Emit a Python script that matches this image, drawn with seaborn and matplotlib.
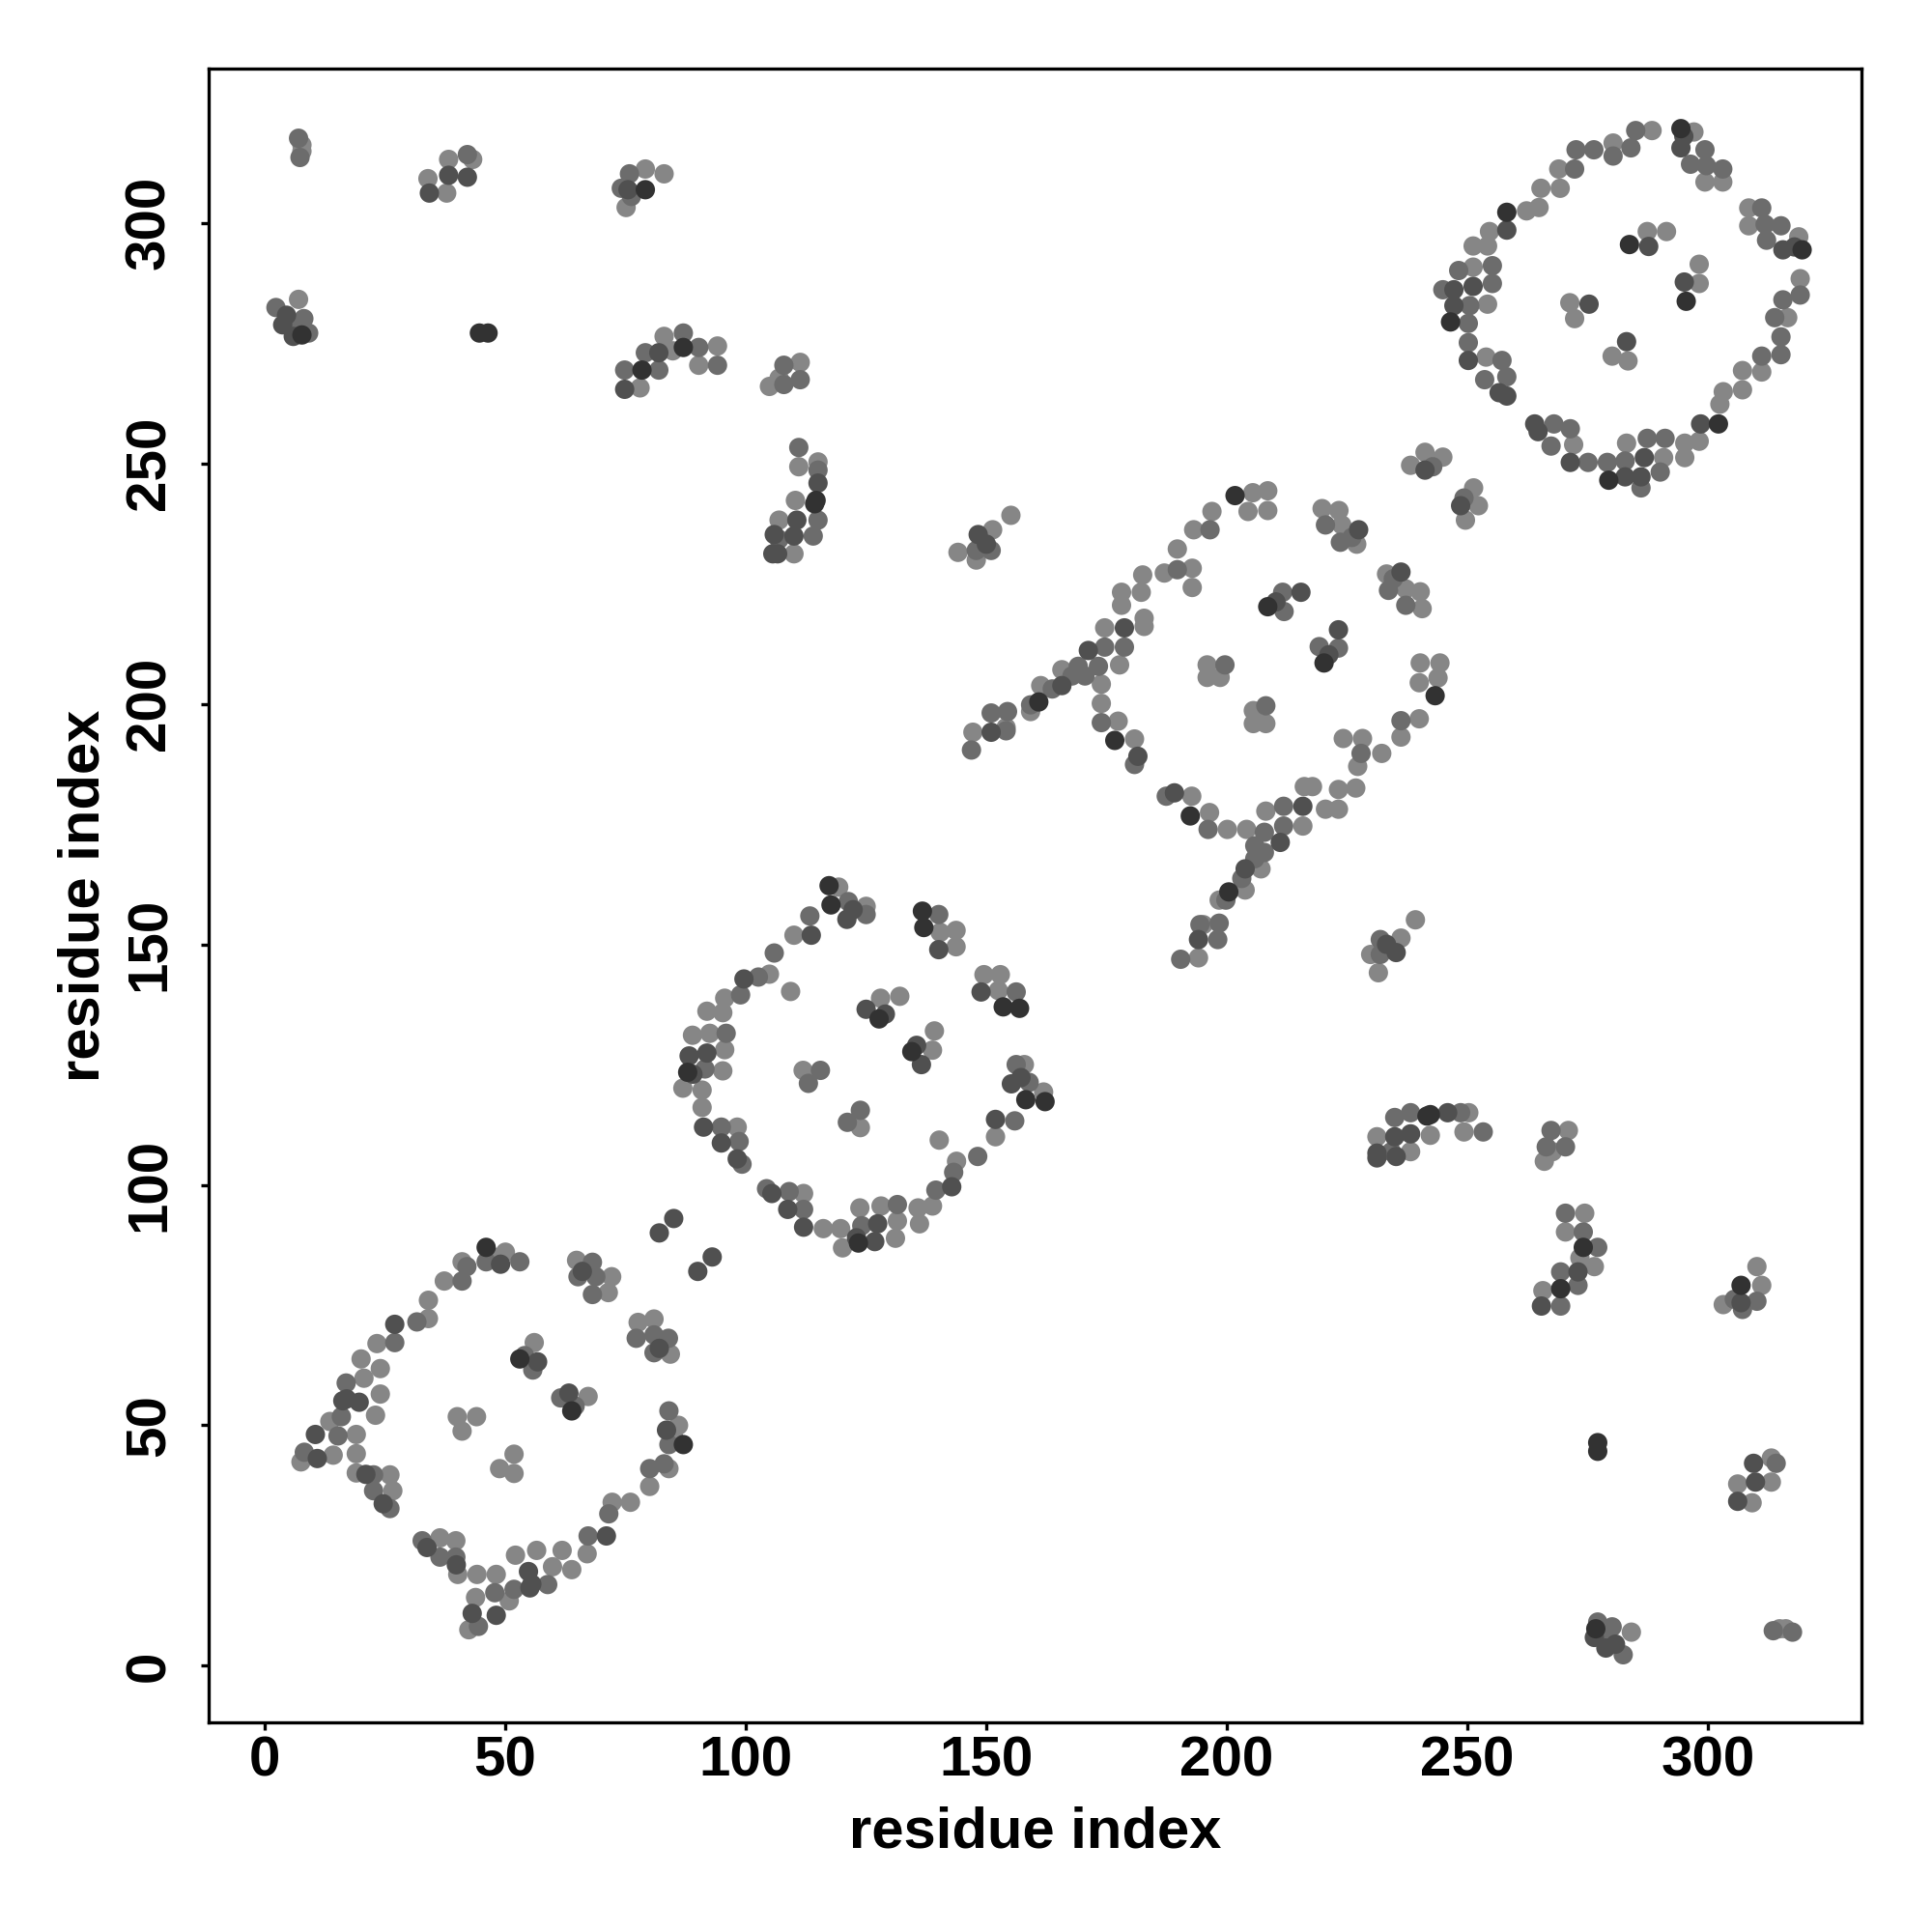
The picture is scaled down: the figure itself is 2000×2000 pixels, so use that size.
import numpy as np
import pandas as pd
import matplotlib
matplotlib.use("Agg")
import matplotlib.pyplot as plt
import seaborn as sns

# Contact map (symmetric): contacts listed for the upper triangle (j > i),
# shade = darkness level of the dot (0 light ... 3 darkest)

ring1_i = [85, 82, 46, 46, 50, 49, 53, 47.5, 41, 42, 41, 37.3, 34, 31.6, 34, 27, 27, 23.3,
           20, 24, 20.6, 16.9, 24, 16.2, 19.6, 23, 13.5, 15.9, 10.5, 19, 8.2, 10.9, 14.2, 19, 7.5, 15.2, 17,
           19, 21, 22.6, 26, 22.6, 26.6, 26, 24.6, 40, 44, 41, 53, 56, 56.7, 55.7, 54,
           64.8, 68.1, 65.1, 68.8, 72.1, 68.1, 71.4, 66]
ring1_j = [93, 90, 87, 84, 86, 83.5, 84, 85, 84, 83, 80, 80, 76, 71.5, 72.2, 71, 67.2, 67,
           63.8, 61.8, 59.8, 58.8, 56.5, 55.1, 54.8, 52.1, 50.8, 51.8, 48.1, 48.1, 44.4, 43.1, 43.8, 44.1, 42.4, 47.8, 55.5,
           40.1, 39.8, 39.7, 39.7, 36.4, 36.4, 32.7, 33.7, 51.8, 51.8, 48.8, 63.8, 67.2, 63.2, 61.5, 64.5,
           84.3, 83.9, 80.9, 80.9, 80.9, 77.2, 77.6, 82]
ring1_s = [2, 2, 3, 1, 0, 2, 1, 0, 0, 1, 1, 0, 0, 1, 0, 2, 1, 0,
           0, 0, 0, 1, 0, 2, 2, 0, 0, 1, 2, 0, 1, 2, 0, 0, 0, 1, 2,
           0, 2, 1, 0, 1, 0, 1, 2, 0, 0, 0, 3, 0, 2, 1, 1,
           0, 1, 1, 1, 0, 1, 0, 2]

ring2_i = [117.3, 119.3, 117.7, 121.3, 122.3, 125, 125, 121,
           113.3, 113.6, 110, 105.9, 104.9, 102.6, 99.6, 98.9, 95.6, 91.9,
           95.2, 88.9, 92.5, 95.9, 88.2, 91.9, 95.6, 87.9, 91.5, 95.2,
           86.9, 90.9, 90.9, 91.2, 94.9, 98.2, 94.9, 98.6, 98.2, 99.2,
           89, 109.3, 111.9, 115.5, 113,
           125, 128, 132, 129, 127.7,
           136.7, 140.1, 143.7, 140.4, 143.7, 140.1, 137]
ring2_j = [162.2, 161.9, 158.2, 158.9, 157.2, 157.9, 156.2, 155.2,
           155.9, 151.9, 151.9, 148.2, 143.8, 143.2, 142.8, 139.5, 138.8, 136.1,
           135.8, 131.1, 131.5, 131.5, 126.8, 127.4, 128.1, 123.4, 124.1, 123.7,
           120.1, 119.7, 116.1, 112, 112, 112, 108.7, 109, 105.4, 104.3,
           123, 140.2, 123.8, 123.8, 121.1,
           136.5, 138.8, 139.2, 135.5, 134.5,
           156.9, 156.2, 152.9, 152.5, 149.5, 148.9, 153.5]
ring2_s = [3, 0, 3, 1, 2, 0, 1, 2,
           1, 2, 0, 1, 0, 1, 2, 1, 0, 0,
           0, 0, 0, 1, 2, 2, 0, 3, 1, 0,
           0, 0, 0, 2, 1, 0, 2, 1, 2, 1,
           2, 0, 0, 1, 1,
           2, 0, 0, 2, 3,
           3, 1, 0, 0, 0, 2, 3]

ring3_i = [155.1, 151.3, 148.3, 147.9, 151.0, 144.1, 147.9, 150.0,
           146.9, 147.2, 151.0, 154.1, 151.0, 154.4, 154.1, 159.2, 160.9, 159.2,
           161.3, 163.7, 165.7, 165.7, 169.1, 171.2, 170.5, 173.9, 174.6, 178.7,
           178.7, 174.6, 177.7, 173.9, 173.3, 167.8,
           173.9, 177.4, 176.7, 180.8, 181.5, 180.8,
           178.1, 178.1, 182.2, 182.5, 182.8, 182.8, 187.0, 189.7, 192.8, 192.8,
           189.7, 193.1, 196.5, 196.9, 201.7, 205.4, 208.5, 204.4, 208.5,
           219.8, 223.3, 220.5, 223.9, 227.4, 223.6, 227.0, 226.0,
           208.5, 211.6, 215.4, 211.9, 210.2, 195.9, 199.6, 195.9, 198.6]
ring3_j = [239.2, 236.2, 235.2, 231.9, 231.9, 231.5, 229.9, 233.2,
           190.4, 194.1, 194.1, 194.4, 198.1, 198.4, 195.1, 199.8, 200.4, 198.4,
           203.8, 203.1, 203.8, 207.1, 207.8, 211.1, 205.8, 204.1, 215.8, 215.8,
           211.8, 211.8, 208.1, 200.1, 207.8, 205.8,
           196.1, 196.4, 192.4, 192.7, 189.1, 187.4,
           220.5, 223.2, 223.2, 226.8, 217.8, 216.1, 227.2, 227.9, 228.2, 224.2,
           232.2, 236.2, 236.2, 240.0, 243.3, 243.9, 244.3, 240.0, 240.2,
           240.6, 240.2, 237.2, 237.2, 236.2, 233.6, 233.2, 234.6,
           220.2, 223.2, 223.2, 219.2, 221.2, 208.1, 208.1, 205.5, 205.5]
ring3_s = [0, 0, 2, 1, 1, 0, 0, 2,
           1, 0, 2, 1, 1, 1, 0, 1, 3, 0,
           0, 1, 2, 0, 1, 2, 1, 0, 0, 2,
           1, 1, 0, 0, 1, 1,
           1, 0, 3, 0, 2, 1,
           0, 0, 0, 0, 0, 0, 0, 1, 0, 0,
           0, 0, 1, 0, 3, 0, 0, 0, 0,
           0, 0, 1, 0, 2, 1, 0, 1,
           3, 1, 2, 1, 2, 0, 1, 0, 0]

ring4_i = [285, 288.4, 284, 280.3, 280.3, 276.3, 272.6, 272.3, 269, 269.3,
           265.3, 264.9, 262.3, 258.2, 258.2, 254.6, 254.2, 251.2, 248.2, 251.2,
           255.2, 255.2, 251.2, 244.9, 247.2, 247.2, 250.5, 254.2, 246.5, 250.2,
           250.2, 250.2, 253.9, 257.2, 253.6, 258.2, 256.6, 258.2,
           294.4, 297.1, 294.4, 299.4, 296.4, 299.7, 303.1, 299.4, 303.1, 295,
           283.7, 287.4, 291.4, 287.7, 271.3, 275.3, 272.3,
           241.2, 244.9, 238.2, 241.2, 242.8]
ring4_j = [319.2, 319.2, 315.6, 316.6, 313.9, 315.2, 315.2, 311.2, 311.2, 307.2,
           307.2, 303.2, 302.5, 302.2, 298.5, 298.2, 295.2, 295.2, 290.1, 290.8,
           291.1, 287.4, 286.8, 286.1, 286.1, 282.8, 282.8, 283.1, 279.4, 279.1,
           275.1, 271.4, 272.1, 271.4, 267.4, 268, 264.7, 264,
           319.6, 318.9, 315.6, 315.2, 312.2, 311.9, 311.2, 308.5, 308.5, 318,
           295.5, 298.2, 298.2, 295.1, 283.4, 283.1, 280.1,
           252.3, 251.3, 249.6, 248.6, 249.3]
ring4_s = [1, 0, 1, 0, 1, 1, 1, 1, 0, 0,
           0, 0, 0, 3, 2, 0, 0, 0, 1, 0,
           1, 1, 2, 1, 2, 2, 1, 0, 3, 1,
           1, 2, 0, 1, 1, 1, 2, 2,
           3, 0, 2, 1, 1, 1, 1, 0, 0, 2,
           3, 0, 0, 2, 0, 2, 0,
           0, 0, 0, 2, 1]

far_i = [7.0, 7.7, 7.3, 7.7,
         33.9, 38.2, 42.1, 43.2, 38.2, 42.1, 34.2, 37.8,
         75.8, 79.1, 83.0, 79.1, 75.5, 74.1, 75.1, 76.2,
         7.0, 2.3, 4.5, 8.1, 7.0, 9.1, 3.7, 5.9, 7.7,
         44.6, 46.4,
         74.8, 74.8, 78.4, 78.0, 79.1, 81.9, 83.0, 81.9, 87.0, 87.0, 84.8, 90.2, 94.1, 90.2, 94.1,
         104.9, 107.9, 111.3, 107.9, 111.3, 106.9,
         111, 111, 115, 115, 115, 110.3, 114.6, 114.3, 106.9, 110.6, 115, 110, 106.9, 105.9, 114, 106.6, 110, 105.6]
far_j = [317.6, 316.2, 313.6, 314.9,
         309.2, 313.2, 314.2, 313.2, 309.9, 309.5, 306.2, 306.2,
         310.2, 311.2, 310.2, 306.9, 306.9, 307.2, 303.2, 305.5,
         284.1, 282.4, 280.8, 280.1, 278.1, 277.1, 278.8, 276.4, 276.7,
         277.1, 277.1,
         269.4, 265.4, 269.4, 265.7, 273.0, 273.0, 276.4, 269.4, 277.1, 274.1, 273.4, 274.1, 274.4, 270.4, 270.4,
         266.0, 270.4, 271.0, 266.4, 267.4, 267.7,
         253.3, 249.3, 250.3, 248.6, 245.9, 242.3, 242.3, 241.6, 238.2, 238.2, 238.2, 234.9, 234.2, 235.2, 234.9, 231.2, 231.2, 231.2]
far_s = [1, 0, 1, 0,
         0, 0, 1, 0, 2, 2, 2, 0,
         1, 0, 0, 3, 2, 1, 0, 1,
         0, 1, 2, 1, 1, 1, 2, 2, 3,
         3, 3,
         1, 2, 3, 0, 1, 2, 0, 1, 1, 3, 0, 1, 0, 0, 1,
         0, 1, 0, 1, 1, 0,
         1, 0, 0, 1, 2, 0, 3, 3, 0, 2, 1, 2, 1, 2, 1, 2, 0, 2]

tick_values = [0, 50, 100, 150, 200, 250, 300]
tick_labels = ["0", "50", "100", "150", "200", "250", "300"]
axis_label = "residue index"

# ---- build symmetric table ----
up_i = ring1_i + ring2_i + ring3_i + ring4_i + far_i
up_j = ring1_j + ring2_j + ring3_j + ring4_j + far_j
up_s = ring1_s + ring2_s + ring3_s + ring4_s + far_s
df = pd.DataFrame({"i": up_i + up_j, "j": up_j + up_i, "shade": up_s + up_s})
df = df.sort_values("shade", kind="stable")

sns.set_style("white")
plt.rcParams["font.family"] = ["Liberation Sans", "DejaVu Sans"]
plt.rcParams["font.weight"] = "bold"

fig = plt.figure(figsize=(10, 10), dpi=200)
ax = fig.add_axes([0.1078, 0.1084, 0.85585, 0.8559])

palette = {0: "#868686", 1: "#6c6c6c", 2: "#505050", 3: "#323232"}
sns.scatterplot(data=df, x="i", y="j", hue="shade", palette=palette,
                s=52, linewidth=0, legend=False, ax=ax)

ax.set_xlim(-11.77, 332.0)
ax.set_ylim(-11.8, 332.0)
ax.set_xticks(tick_values)
ax.set_yticks(tick_values)
ax.set_xticklabels(tick_labels)
ax.set_yticklabels(tick_labels)
ax.tick_params(direction="out", length=2.9, width=1.2, labelsize=21,
               color="black", labelcolor="black", bottom=True, left=True)
ax.tick_params(axis="x", pad=1.8)
ax.tick_params(axis="y", pad=9)
for t in ax.get_yticklabels():
    t.set_rotation(90)
    t.set_va("center")
    t.set_fontweight("bold")
for t in ax.get_xticklabels():
    t.set_fontweight("bold")
for sp in ax.spines.values():
    sp.set_visible(True)
    sp.set_linewidth(1.2)
    sp.set_color("black")

ax.set_xlabel(axis_label, fontsize=21.5, fontweight="bold", color="black")
ax.set_ylabel(axis_label, fontsize=21.5, fontweight="bold", color="black")
ax.xaxis.set_label_coords(0.5, -0.0507)
ax.yaxis.set_label_coords(-0.0588, 0.5)

fig.savefig("out.png", dpi=200, facecolor="white")
